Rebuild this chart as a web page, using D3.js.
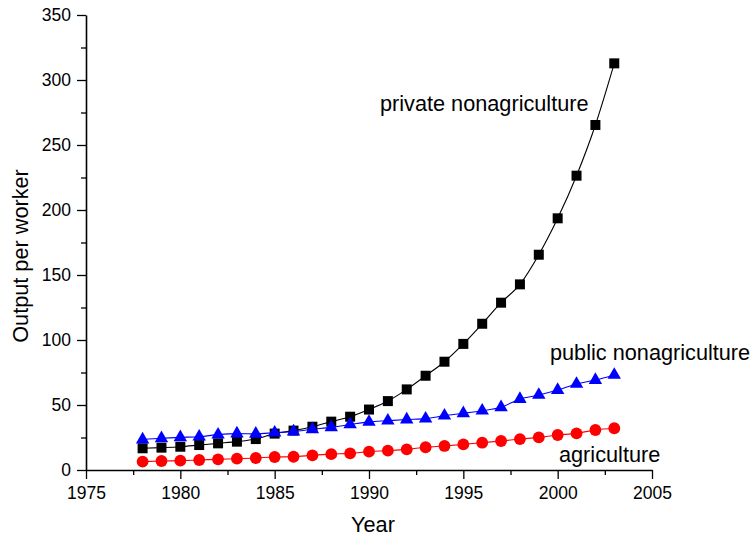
<!DOCTYPE html>
<html>
<head>
<meta charset="utf-8">
<script src="https://cdn.jsdelivr.net/npm/d3@7"></script>
<style>
body{margin:0;background:#fff;}
text{font-family:"Liberation Sans",Arial,sans-serif;}
</style>
</head>
<body>
<svg id="chart" width="756" height="542"></svg>
<script>
const years = [1978,1979,1980,1981,1982,1983,1984,1985,1986,1987,1988,1989,1990,1991,1992,1993,1994,1995,1996,1997,1998,1999,2000,2001,2002,2003];
const privateNonag = [16.7,17.2,17.9,19.2,20.5,21.8,23.8,28,30.3,33.3,37.2,41,46.5,53,62,72.5,83.3,97,112.5,128.7,142.8,165.6,193.6,226.4,265.4,312.8];
const publicNonag = [23.4,24.4,25.1,25.6,27.2,28,27.8,28.7,29.6,31.3,32.8,35,37,37.9,38.8,39.5,41.8,43.6,45.6,48.2,54.6,57.7,61.5,66.2,69.2,73.1];
const agriculture = [6.4,6.9,7.2,7.7,8.2,8.7,9.2,10,10.2,11.3,12.2,12.8,14.1,14.9,15.9,17.5,18.5,19.7,21,22.3,23.8,25.1,26.9,28.2,30.8,32.1];
const xTicks = [1975,1980,1985,1990,1995,2000,2005];
const yTicks = [0,50,100,150,200,250,300,350];
const seriesNames = ["private nonagriculture","public nonagriculture","agriculture"];

const svg = d3.select("#chart");
const x = d3.scaleLinear().domain([1975,2005]).range([86,652]);
const y = d3.scaleLinear().domain([0,350]).range([470,15]);
const FONT = "'Liberation Sans',Arial,sans-serif";

// minor ticks
const xMinor = d3.range(1977.5,2005,5);
const yMinor = d3.range(25,350,50);
svg.append("g").attr("transform","translate(0,470)")
  .call(d3.axisBottom(x).tickValues(xMinor).tickSize(5).tickFormat(""))
  .call(g=>g.select(".domain").remove())
  .selectAll("line").attr("stroke","#000").attr("stroke-width",1.3);
svg.append("g").attr("transform","translate(86,0)")
  .call(d3.axisLeft(y).tickValues(yMinor).tickSize(5).tickFormat(""))
  .call(g=>g.select(".domain").remove())
  .selectAll("line").attr("stroke","#000").attr("stroke-width",1.3);

const xAxis = svg.append("g").attr("transform","translate(0,470)")
  .call(d3.axisBottom(x).tickValues(xTicks).tickSize(9).tickSizeOuter(0).tickPadding(8).tickFormat(d3.format("d")));
const yAxis = svg.append("g").attr("transform","translate(86,0)")
  .call(d3.axisLeft(y).tickValues(yTicks).tickSize(9).tickSizeOuter(0).tickPadding(6).tickFormat(d3.format("d")));
[xAxis,yAxis].forEach(a=>{
  a.selectAll("path").attr("stroke","#000").attr("stroke-width",1.6);
  a.selectAll("line").attr("stroke","#000").attr("stroke-width",1.3);
  a.selectAll("text").attr("font-size",17.5).attr("fill","#000").attr("font-family",FONT);
});

const series = [
  {name:seriesNames[0], vals:privateNonag, color:"#000000", shape:d3.symbolSquare, size:100},
  {name:seriesNames[1], vals:publicNonag, color:"#0000ff", shape:d3.symbolTriangle, size:78},
  {name:seriesNames[2], vals:agriculture, color:"#ff0000", shape:d3.symbolCircle, size:110}
];
const line = d3.line().x((d,i)=>x(years[i])).y(d=>y(d)).curve(d3.curveMonotoneX);
series.forEach(s=>{
  svg.append("path").datum(s.vals).attr("d",line).attr("fill","none").attr("stroke",s.color).attr("stroke-width",1.1);
});
series.forEach(s=>{
  svg.append("g").selectAll("path").data(s.vals).join("path")
    .attr("transform",(d,i)=>`translate(${x(years[i])},${y(d)})`)
    .attr("d",d3.symbol().type(s.shape).size(s.size))
    .attr("fill",s.color);
});

// series labels
const labelPos = [{x:380,y:111},{x:550,y:360},{x:559,y:462}];
seriesNames.forEach((n,i)=>{
  svg.append("text").attr("x",labelPos[i].x).attr("y",labelPos[i].y)
    .attr("font-size",21.7).attr("fill","#000").text(n);
});

svg.append("text").attr("x",373).attr("y",532).attr("text-anchor","middle")
  .attr("font-size",21.7).attr("fill","#000").text("Year");
svg.append("text").attr("transform","translate(28,256) rotate(-90)").attr("text-anchor","middle")
  .attr("font-size",21.7).attr("fill","#000").text("Output per worker");
</script>
</body>
</html>
